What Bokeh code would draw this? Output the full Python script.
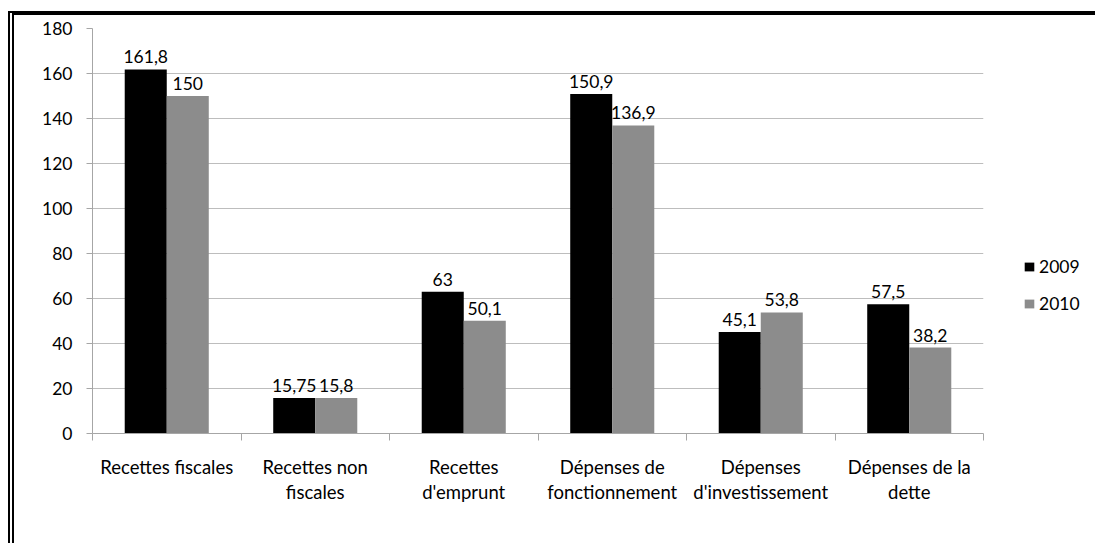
from bokeh.plotting import figure
from bokeh.models import ColumnDataSource, FixedTicker, Range1d, Legend, LegendItem, LinearAxis
from bokeh.transform import dodge
from bokeh.core.properties import value
from bokeh.embed import file_html
from bokeh.resources import INLINE

categories = ["Recettes fiscales", "Recettes non\nfiscales", "Recettes\nd'emprunt",
              "Dépenses de\nfonctionnement", "Dépenses\nd'investissement", "Dépenses de la\ndette"]
series_names = ["2009", "2010"]
values_2009 = [161.8, 15.75, 63, 150.9, 45.1, 57.5]
values_2010 = [150, 15.8, 50.1, 136.9, 53.8, 38.2]
y_ticks = [0, 20, 40, 60, 80, 100, 120, 140, 160, 180]

FONT = "Lato"
FS = "17.5px"
FS_CAT = "18.5px"

def fmt(v):
    return f"{v:g}".replace(".", ",")

xs = [i + 0.5 for i in range(len(categories))]
src = ColumnDataSource(dict(
    x=xs, v1=values_2009, v2=values_2010,
    l1=[fmt(v) for v in values_2009], l2=[fmt(v) for v in values_2010],
))

p = figure(width=1073, height=528, frame_width=891, frame_height=405,
           x_range=Range1d(0, len(categories)), y_range=Range1d(0, 180),
           output_backend="svg", toolbar_location=None, tools="",
           min_border_left=78, min_border_top=13, min_border_right=104, min_border_bottom=110,
           x_axis_location=None,
           styles={"border-top": "4px solid black", "border-left": "6px double black",
                   "margin-top": "11px", "margin-left": "8px"})
p.outline_line_color = None
p.background_fill_color = "white"

w = 0.283
r1 = p.vbar(x=dodge("x", -w / 2, range=p.x_range), top="v1", width=w, source=src,
            fill_color="#000000", line_color=None)
r2 = p.vbar(x=dodge("x", w / 2, range=p.x_range), top="v2", width=w, source=src,
            fill_color="#8c8c8c", line_color=None)

for col, lab, off in (("v1", "l1", -w / 2), ("v2", "l2", w / 2)):
    p.text(x=dodge("x", off, range=p.x_range), y=col, text=lab, source=src,
           text_align="center", text_baseline="bottom", y_offset=-6,
           text_font=value(FONT), text_font_size=FS, text_color="#000000")

# y axis
ya = p.yaxis[0]
ya.ticker = FixedTicker(ticks=y_ticks)
ya.axis_line_color = "#a6a6a6"
ya.major_tick_line_color = "#a6a6a6"
ya.major_tick_out = 6
ya.major_tick_in = 0
ya.minor_tick_line_color = None
ya.major_label_text_font = FONT
ya.major_label_text_font_size = FS
ya.major_label_text_color = "#000000"
ya.major_label_standoff = 14

p.ygrid.ticker = FixedTicker(ticks=y_ticks)
p.ygrid.grid_line_color = "#bdbdbd"
p.ygrid.grid_line_width = 1
p.xgrid.grid_line_color = None

# x axis: labels at centres, ticks at boundaries
xa = LinearAxis(ticker=FixedTicker(ticks=xs, minor_ticks=list(range(len(categories) + 1))))
xa.major_label_overrides = {x: c for x, c in zip(xs, categories)}
xa.axis_line_color = "#a6a6a6"
xa.major_tick_line_color = None
xa.major_tick_out = 0
xa.minor_tick_line_color = "#a6a6a6"
xa.minor_tick_out = 7
xa.minor_tick_in = 0
xa.major_label_text_font = FONT
xa.major_label_text_font_size = FS_CAT
xa.major_label_text_color = "#000000"
xa.major_label_text_line_height = 1.15
xa.major_label_standoff = 15
p.add_layout(xa, "below")

legend = Legend(items=[LegendItem(label=series_names[0], renderers=[r1]),
                       LegendItem(label=series_names[1], renderers=[r2])],
                location=(40, 119), orientation="vertical")
legend.border_line_color = None
legend.background_fill_alpha = 0
legend.padding = 0
legend.margin = 0
legend.glyph_width = 12
legend.glyph_height = 11
legend.label_height = 20
legend.spacing = 16
legend.label_standoff = 4
legend.label_text_font = FONT
legend.label_text_font_size = FS
legend.label_text_color = "#000000"
p.add_layout(legend, "right")

open("out.html", "w").write(file_html(p, INLINE))
